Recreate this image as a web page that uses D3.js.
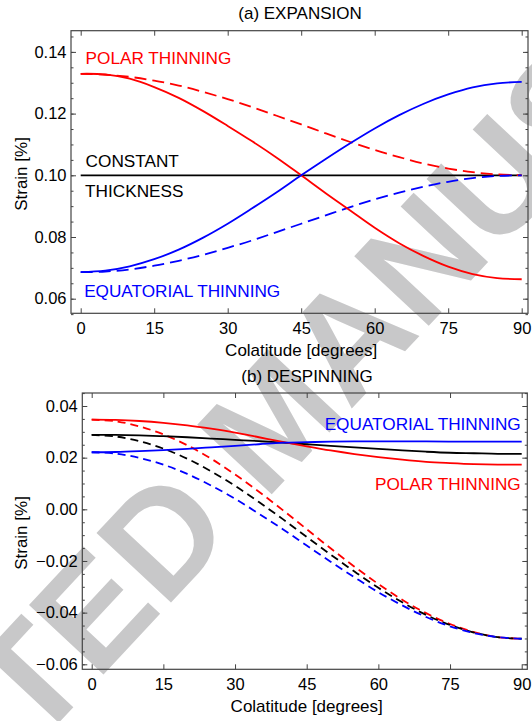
<!DOCTYPE html>
<html>
<head>
<meta charset="utf-8">
<script src="https://cdn.jsdelivr.net/npm/d3@7"></script>
<style>
	body { margin: 0; background: #fff; }
	text { font-family: "Liberation Sans", Arial, sans-serif; }
</style>
</head>
<body>
<div id="chart"></div>
<script>
/* global d3 */

var WIDTH = 532;
var HEIGHT = 721;

// colatitude samples [degrees]
var colatitude = [0, 5, 10, 15, 20, 25, 30, 35, 40, 45, 50, 55, 60, 65, 70, 75, 80, 85, 90];

// (a) EXPANSION strain [%]
var expConstant = [0.1, 0.1, 0.1, 0.1, 0.1, 0.1, 0.1, 0.1, 0.1, 0.1, 0.1, 0.1, 0.1, 0.1, 0.1, 0.1, 0.1, 0.1, 0.1];
var expPolar = [0.1329, 0.1327, 0.1313, 0.1286, 0.1251, 0.1208, 0.1160, 0.1110, 0.1057, 0.1000, 0.0942, 0.0886, 0.0830, 0.0780, 0.0738, 0.0704, 0.0680, 0.0667, 0.0663];
var expPolarDashed = [0.1329, 0.1326, 0.1319, 0.1307, 0.1291, 0.1270, 0.1247, 0.1221, 0.1193, 0.1165, 0.1136, 0.1108, 0.1082, 0.1059, 0.1038, 0.1022, 0.1010, 0.1003, 0.1000];
var expEquatorial = [0.0686, 0.0691, 0.0705, 0.0728, 0.0759, 0.0798, 0.0843, 0.0893, 0.0945, 0.1000, 0.1053, 0.1104, 0.1152, 0.1195, 0.1232, 0.1262, 0.1285, 0.1298, 0.1303];
var expEquatorialDashed = [0.0686, 0.0688, 0.0695, 0.0707, 0.0723, 0.0742, 0.0765, 0.0789, 0.0816, 0.0843, 0.0870, 0.0897, 0.0922, 0.0944, 0.0963, 0.0979, 0.0991, 0.0998, 0.1000];

// (b) DESPINNING strain [%]
var desPolar = [0.0347, 0.0346, 0.0342, 0.0335, 0.0325, 0.0312, 0.0297, 0.0279, 0.0261, 0.0244, 0.0228, 0.0214, 0.0202, 0.0192, 0.0184, 0.0179, 0.0175, 0.0173, 0.0173];
var desConstant = [0.0288, 0.0288, 0.0286, 0.0283, 0.0279, 0.0274, 0.0269, 0.0264, 0.0258, 0.0252, 0.0246, 0.0240, 0.0234, 0.0228, 0.0223, 0.0219, 0.0217, 0.0215, 0.0215];
var desEquatorial = [0.0221, 0.0222, 0.0225, 0.0229, 0.0234, 0.0240, 0.0246, 0.0252, 0.0258, 0.0260, 0.0262, 0.0263, 0.0263, 0.0263, 0.0263, 0.0262, 0.0262, 0.0262, 0.0262];
var desPolarDashed = [0.0347, 0.0341, 0.0321, 0.0290, 0.0248, 0.0196, 0.0135, 0.0068, -0.0003, -0.0077, -0.0151, -0.0222, -0.0289, -0.0350, -0.0402, -0.0444, -0.0475, -0.0495, -0.0501];
var desConstantDashed = [0.0288, 0.0282, 0.0264, 0.0235, 0.0196, 0.0147, 0.0091, 0.0028, -0.0038, -0.0107, -0.0175, -0.0241, -0.0304, -0.0360, -0.0409, -0.0448, -0.0477, -0.0495, -0.0501];
var desEquatorialDashed = [0.0221, 0.0216, 0.0199, 0.0173, 0.0137, 0.0092, 0.0041, -0.0017, -0.0077, -0.0140, -0.0203, -0.0263, -0.0321, -0.0372, -0.0417, -0.0453, -0.0479, -0.0495, -0.0501];

// tick labels
var xTicks = [0, 15, 30, 45, 60, 75, 90];
var yTicksA = [0.06, 0.08, 0.10, 0.12, 0.14];
var yTicksB = [-0.06, -0.04, -0.02, 0.00, 0.02, 0.04];

var RED = '#ff0000';
var BLUE = '#0000ff';
var BLACK = '#000000';
var FRAME = '#444444';

var svg = d3.select('#chart')
  .append('svg')
	.attr('width', WIDTH)
	.attr('height', HEIGHT)
	.style('display', 'block');

svg.append('rect')
	.attr('width', WIDTH)
	.attr('height', HEIGHT)
	.attr('fill', '#fff');

//* WATERMARK (behind everything, runs off the page like the original)
svg.append('text')
	.attr('transform', 'translate(272,418) rotate(-47)')
	.attr('text-anchor', 'middle')
	.attr('dy', '0.35em')
	.attr('font-size', 148)
	.attr('font-weight', 'bold')
	.attr('fill', '#c8c8c9')
	.text('ACCEPTED MANUSCRIPT');


/**
 * Draws one framed panel
 */
function drawPanel( opts ) {

	var g = svg.append('g');
	var f = opts.frame;

	var x = d3.scaleLinear().domain([0, 90]).range(opts.xRange);
	var y = d3.scaleLinear().domain(opts.yDomain).range(opts.yRange);

	var clipId = 'clip-' + opts.id;
	g.append('clipPath').attr('id', clipId)
	  .append('rect')
		.attr('x', f.left).attr('y', f.top)
		.attr('width', f.right - f.left).attr('height', f.bottom - f.top);

	var fmt = d3.format('.2f');

	// major / minor ticks on all four sides, pointing inward
	function styleAxis( sel ) {
		sel.select('.domain').remove();
		sel.selectAll('line').attr('stroke', FRAME).attr('stroke-width', 1);
		sel.selectAll('text')
			.attr('font-family', '"Liberation Sans", Arial, sans-serif')
			.attr('font-size', 16.5)
			.attr('fill', '#000');
	}

	g.append('g').attr('transform', 'translate(0,' + f.bottom + ')')
		.call( d3.axisBottom(x).tickValues(xTicks).tickSizeInner(-5).tickSizeOuter(0).tickPadding(8.5) )
		.call( styleAxis );

	g.append('g').attr('transform', 'translate(0,' + f.top + ')')
		.call( d3.axisTop(x).tickValues(xTicks).tickSizeInner(-5).tickSizeOuter(0).tickFormat('') )
		.call( styleAxis );

	g.append('g').attr('transform', 'translate(' + f.left + ',0)')
		.call( d3.axisLeft(y).tickValues(opts.yTicks).tickSizeInner(-5).tickSizeOuter(0).tickPadding(4.5).tickFormat(fmt) )
		.call( styleAxis );

	g.append('g').attr('transform', 'translate(' + f.left + ',0)')
		.call( d3.axisLeft(y).tickValues(opts.yMinor).tickSizeInner(-2.5).tickSizeOuter(0).tickFormat('') )
		.call( styleAxis );

	g.append('g').attr('transform', 'translate(' + f.right + ',0)')
		.call( d3.axisRight(y).tickValues(opts.yTicks).tickSizeInner(-5).tickSizeOuter(0).tickFormat('') )
		.call( styleAxis );

	g.append('g').attr('transform', 'translate(' + f.right + ',0)')
		.call( d3.axisRight(y).tickValues(opts.yMinor).tickSizeInner(-2.5).tickSizeOuter(0).tickFormat('') )
		.call( styleAxis );

	//* FRAME
	g.append('rect')
		.attr('x', f.left).attr('y', f.top)
		.attr('width', f.right - f.left).attr('height', f.bottom - f.top)
		.attr('fill', 'none')
		.attr('stroke', FRAME)
		.attr('stroke-width', 1.2);

	//* CURVES
	var line = d3.line()
		.x(function(d, i){ return x(colatitude[i]); })
		.y(function(d){ return y(d); })
		.curve(d3.curveCatmullRom);

	var curves = g.append('g').attr('clip-path', 'url(#' + clipId + ')');

	opts.series.forEach( function( s ){
		curves.append('path')
			.attr('d', line(s.values))
			.attr('fill', 'none')
			.attr('stroke', s.color)
			.attr('stroke-width', 1.8)
			.attr('stroke-dasharray', s.dashed ? opts.dash : null);
	});

	//* TITLES
	g.append('text')
		.attr('x', opts.titleX).attr('y', opts.titleY)
		.attr('text-anchor', 'middle')
		.attr('font-size', 17)
		.attr('fill', '#000')
		.text(opts.title);

	g.append('text')
		.attr('x', (opts.xRange[0] + opts.xRange[1]) / 2).attr('y', opts.xLabelY)
		.attr('text-anchor', 'middle')
		.attr('font-size', 17)
		.attr('fill', '#000')
		.text('Colatitude [degrees]');

	g.append('text')
		.attr('transform', 'translate(27,' + opts.yLabelY + ') rotate(-90)')
		.attr('text-anchor', 'middle')
		.attr('font-size', 17)
		.attr('fill', '#000')
		.text('Strain [%]');

	//* CURVE LABELS
	opts.labels.forEach( function( l ){
		g.append('text')
			.attr('x', x(l.at[0])).attr('y', y(l.at[1]))
			.attr('text-anchor', l.anchor)
			.attr('font-size', 17.2)
			.attr('fill', l.color)
			.text(l.text);
	});
}


drawPanel({
	id: 'a',
	title: '(a) EXPANSION',
	titleX: 300, titleY: 19,
	frame: { left: 71, right: 528, top: 30.7, bottom: 313.3 },
	xRange: [80.7, 521.7],
	yDomain: [0.06, 0.14],
	yRange: [298.7, 51.9],
	yTicks: yTicksA,
	yMinor: d3.range(11, 30).map(function(i){ return i * 0.005; }),
	xLabelY: 355.5,
	yLabelY: 174,
	dash: '12,6',
	series: [
		{ values: expConstant, color: BLACK },
		{ values: expPolarDashed, color: RED, dashed: true },
		{ values: expEquatorialDashed, color: BLUE, dashed: true },
		{ values: expPolar, color: RED },
		{ values: expEquatorial, color: BLUE }
	],
	labels: [
		{ text: 'POLAR THINNING', color: RED, at: [1.0, 0.1360], anchor: 'start' },
		{ text: 'CONSTANT', color: BLACK, at: [1.0, 0.1028], anchor: 'start' },
		{ text: 'THICKNESS', color: BLACK, at: [0.9, 0.0931], anchor: 'start' },
		{ text: 'EQUATORIAL THINNING', color: BLUE, at: [0.7, 0.0607], anchor: 'start' }
	]
});

drawPanel({
	id: 'b',
	title: '(b) DESPINNING',
	titleX: 307, titleY: 382,
	frame: { left: 82.3, right: 527.3, top: 393, bottom: 669.3 },
	xRange: [91.7, 521.7],
	yDomain: [-0.06, 0.04],
	yRange: [664.3, 406],
	yTicks: yTicksB,
	yMinor: d3.range(-12, 10).map(function(i){ return i * 0.005; }),
	xLabelY: 712,
	yLabelY: 533,
	dash: '8,5',
	series: [
		{ values: desPolarDashed, color: RED, dashed: true },
		{ values: desConstantDashed, color: BLACK, dashed: true },
		{ values: desEquatorialDashed, color: BLUE, dashed: true },
		{ values: desConstant, color: BLACK },
		{ values: desPolar, color: RED },
		{ values: desEquatorial, color: BLUE }
	],
	labels: [
		{ text: 'EQUATORIAL THINNING', color: BLUE, at: [89.8, 0.0306], anchor: 'end' },
		{ text: 'POLAR THINNING', color: RED, at: [89.8, 0.0074], anchor: 'end' }
	]
});
</script>
</body>
</html>
